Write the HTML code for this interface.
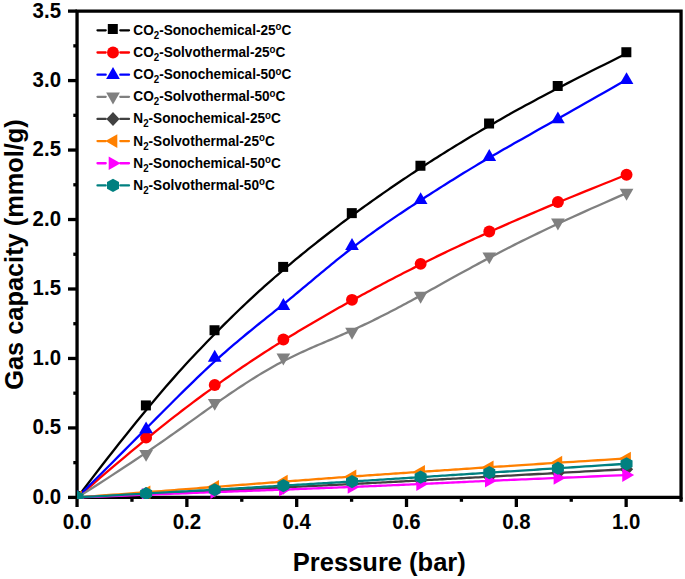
<!DOCTYPE html>
<html><head><meta charset="utf-8"><style>
html,body{margin:0;padding:0;background:#fff;width:685px;height:579px;overflow:hidden;}
svg{display:block;}
text{font-family:"Liberation Sans",sans-serif;font-weight:bold;fill:#000;}
</style></head><body>
<svg width="685" height="579" viewBox="0 0 685 579">
<g stroke="#000" stroke-width="3.3" fill="none" stroke-linecap="butt">
<path d="M75.40,11.11 H682.71 M681.06,11.11 V497.40 M75.40,497.40 H682.71 M77.05,9.46 V499.05"/>
<path d="M77.05,497.40 H68.00"/>
<path d="M77.05,462.66 H73.30"/>
<path d="M77.05,427.93 H68.00"/>
<path d="M77.05,393.19 H73.30"/>
<path d="M77.05,358.46 H68.00"/>
<path d="M77.05,323.72 H73.30"/>
<path d="M77.05,288.99 H68.00"/>
<path d="M77.05,254.25 H73.30"/>
<path d="M77.05,219.52 H68.00"/>
<path d="M77.05,184.78 H73.30"/>
<path d="M77.05,150.05 H68.00"/>
<path d="M77.05,115.31 H73.30"/>
<path d="M77.05,80.58 H68.00"/>
<path d="M77.05,45.84 H73.30"/>
<path d="M77.05,11.11 H68.00"/>
<path d="M77.05,497.40 V507.00"/>
<path d="M131.96,497.40 V501.80"/>
<path d="M186.87,497.40 V507.00"/>
<path d="M241.78,497.40 V501.80"/>
<path d="M296.69,497.40 V507.00"/>
<path d="M351.60,497.40 V501.80"/>
<path d="M406.51,497.40 V507.00"/>
<path d="M461.42,497.40 V501.80"/>
<path d="M516.33,497.40 V507.00"/>
<path d="M571.24,497.40 V501.80"/>
<path d="M626.15,497.40 V507.00"/>
<path d="M681.06,497.40 V501.80"/>
</g>
<svg x="76.95" y="11.11" width="604.01" height="487.79" viewBox="76.95 11.11 604.01 487.79" overflow="hidden">
<polyline points="77.45,497.40 85.03,487.43 92.33,477.88 99.35,468.76 106.12,460.05 112.63,451.72 118.89,443.77 124.92,436.18 130.73,428.95 136.32,422.04 141.70,415.46 146.88,409.18 151.87,403.19 156.68,397.48 161.32,392.04 165.79,386.84 170.11,381.88 174.29,377.13 178.33,372.60 182.24,368.26 186.04,364.09 189.72,360.09 193.31,356.24 196.81,352.53 200.23,348.93 203.57,345.45 206.85,342.05 210.07,338.74 213.25,335.49 216.38,332.32 219.47,329.20 222.52,326.15 225.52,323.16 228.49,320.23 231.42,317.35 234.32,314.53 237.18,311.76 240.01,309.04 242.81,306.36 245.58,303.74 248.33,301.15 251.05,298.61 253.75,296.11 256.43,293.64 259.09,291.21 261.74,288.82 264.37,286.45 266.98,284.11 269.59,281.80 272.18,279.52 274.77,277.25 277.35,275.01 279.93,272.79 282.50,270.58 285.08,268.38 287.65,266.20 290.23,264.04 292.80,261.88 295.37,259.74 297.95,257.61 300.52,255.49 303.10,253.39 305.67,251.30 308.24,249.22 310.82,247.15 313.39,245.10 315.97,243.05 318.54,241.02 321.11,239.00 323.69,236.98 326.26,234.98 328.83,232.99 331.41,231.02 333.98,229.05 336.56,227.09 339.13,225.14 341.70,223.20 344.28,221.27 346.85,219.35 349.43,217.44 352.00,215.54 354.57,213.65 357.15,211.77 359.72,209.89 362.30,208.03 364.87,206.17 367.44,204.32 370.02,202.48 372.59,200.65 375.17,198.83 377.74,197.01 380.31,195.21 382.89,193.41 385.46,191.62 388.03,189.84 390.61,188.07 393.18,186.30 395.76,184.55 398.33,182.80 400.90,181.05 403.48,179.32 406.05,177.59 408.63,175.88 411.20,174.16 413.77,172.46 416.35,170.77 418.92,169.08 421.50,167.40 424.07,165.72 426.65,164.05 429.23,162.39 431.82,160.73 434.41,159.07 437.02,157.41 439.63,155.76 442.26,154.11 444.91,152.45 447.57,150.79 450.25,149.13 452.95,147.46 455.67,145.79 458.42,144.12 461.19,142.43 463.99,140.74 466.82,139.04 469.68,137.33 472.58,135.60 475.51,133.87 478.48,132.12 481.48,130.35 484.53,128.57 487.62,126.78 490.75,124.97 493.93,123.14 497.15,121.29 500.43,119.41 503.77,117.51 507.19,115.58 510.69,113.62 514.28,111.62 517.96,109.57 521.76,107.48 525.67,105.34 529.71,103.14 533.89,100.89 538.21,98.57 542.68,96.18 547.32,93.73 552.13,91.20 557.12,88.59 562.30,85.90 567.68,83.13 573.27,80.26 579.08,77.30 585.11,74.24 591.37,71.08 597.88,67.81 604.65,64.43 611.67,60.93 618.97,57.32 626.55,53.58" fill="none" stroke="#000000" stroke-width="2.3" stroke-linejoin="round"/>
<rect x="72.25" y="491.05" width="10.0" height="10.0" fill="#000000"/>
<rect x="140.89" y="400.42" width="10.0" height="10.0" fill="#000000"/>
<rect x="209.53" y="325.25" width="10.0" height="10.0" fill="#000000"/>
<rect x="278.16" y="261.90" width="10.0" height="10.0" fill="#000000"/>
<rect x="346.80" y="208.13" width="10.0" height="10.0" fill="#000000"/>
<rect x="415.44" y="160.75" width="10.0" height="10.0" fill="#000000"/>
<rect x="484.08" y="118.51" width="10.0" height="10.0" fill="#000000"/>
<rect x="552.71" y="81.00" width="10.0" height="10.0" fill="#000000"/>
<rect x="621.35" y="47.23" width="10.0" height="10.0" fill="#000000"/>
<polyline points="77.45,497.40 85.03,490.82 92.33,484.51 99.35,478.47 106.12,472.68 112.63,467.13 118.89,461.83 124.92,456.76 130.73,451.90 136.32,447.26 141.70,442.82 146.88,438.57 151.87,434.51 156.68,430.62 161.32,426.91 165.79,423.35 170.11,419.94 174.29,416.67 178.33,413.54 182.24,410.52 186.04,407.63 189.72,404.83 193.31,402.14 196.81,399.53 200.23,397.01 203.57,394.55 206.85,392.16 210.07,389.81 213.25,387.52 216.38,385.27 219.47,383.07 222.52,380.90 225.52,378.78 228.49,376.70 231.42,374.65 234.32,372.65 237.18,370.67 240.01,368.73 242.81,366.82 245.58,364.95 248.33,363.10 251.05,361.28 253.75,359.48 256.43,357.71 259.09,355.97 261.74,354.24 264.37,352.54 266.98,350.85 269.59,349.18 272.18,347.53 274.77,345.89 277.35,344.26 279.93,342.65 282.50,341.05 285.08,339.45 287.65,337.86 290.23,336.28 292.80,334.71 295.37,333.15 297.95,331.59 300.52,330.04 303.10,328.50 305.67,326.96 308.24,325.44 310.82,323.91 313.39,322.40 315.97,320.89 318.54,319.39 321.11,317.90 323.69,316.41 326.26,314.93 328.83,313.46 331.41,311.99 333.98,310.53 336.56,309.07 339.13,307.62 341.70,306.18 344.28,304.74 346.85,303.30 349.43,301.87 352.00,300.45 354.57,299.04 357.15,297.62 359.72,296.22 362.30,294.82 364.87,293.42 367.44,292.03 370.02,290.64 372.59,289.26 375.17,287.89 377.74,286.52 380.31,285.15 382.89,283.79 385.46,282.44 388.03,281.09 390.61,279.75 393.18,278.41 395.76,277.07 398.33,275.74 400.90,274.42 403.48,273.10 406.05,271.79 408.63,270.48 411.20,269.18 413.77,267.88 416.35,266.59 418.92,265.30 421.50,264.02 424.07,262.74 426.65,261.47 429.23,260.19 431.82,258.93 434.41,257.66 437.02,256.39 439.63,255.13 442.26,253.86 444.91,252.59 447.57,251.32 450.25,250.05 452.95,248.77 455.67,247.48 458.42,246.20 461.19,244.90 463.99,243.60 466.82,242.28 469.68,240.96 472.58,239.63 475.51,238.29 478.48,236.94 481.48,235.58 484.53,234.20 487.62,232.81 490.75,231.40 493.93,229.98 497.15,228.54 500.43,227.08 503.77,225.60 507.19,224.10 510.69,222.56 514.28,221.00 517.96,219.40 521.76,217.76 525.67,216.07 529.71,214.35 533.89,212.57 538.21,210.74 542.68,208.86 547.32,206.91 552.13,204.91 557.12,202.84 562.30,200.70 567.68,198.49 573.27,196.20 579.08,193.83 585.11,191.38 591.37,188.85 597.88,186.23 604.65,183.51 611.67,180.70 618.97,177.79 626.55,174.78" fill="none" stroke="#ff0000" stroke-width="2.3" stroke-linejoin="round"/>
<circle cx="77.45" cy="497.40" r="5.95" fill="#ff0000"/>
<circle cx="146.09" cy="437.66" r="5.95" fill="#ff0000"/>
<circle cx="214.73" cy="385.00" r="5.95" fill="#ff0000"/>
<circle cx="283.36" cy="339.56" r="5.95" fill="#ff0000"/>
<circle cx="352.00" cy="299.83" r="5.95" fill="#ff0000"/>
<circle cx="420.64" cy="263.84" r="5.95" fill="#ff0000"/>
<circle cx="489.28" cy="231.47" r="5.95" fill="#ff0000"/>
<circle cx="557.91" cy="202.01" r="5.95" fill="#ff0000"/>
<circle cx="626.55" cy="174.78" r="5.95" fill="#ff0000"/>
<polyline points="77.45,497.40 85.03,489.85 92.33,482.56 99.35,475.53 106.12,468.75 112.63,462.22 118.89,455.93 124.92,449.87 130.73,444.03 136.32,438.40 141.70,432.99 146.88,427.77 151.87,422.75 156.68,417.92 161.32,413.26 165.79,408.78 170.11,404.46 174.29,400.29 178.33,396.28 182.24,392.41 186.04,388.67 189.72,385.06 193.31,381.57 196.81,378.19 200.23,374.92 203.57,371.75 206.85,368.67 210.07,365.67 213.25,362.75 216.38,359.90 219.47,357.12 222.52,354.41 225.52,351.77 228.49,349.18 231.42,346.65 234.32,344.18 237.18,341.76 240.01,339.38 242.81,337.05 245.58,334.75 248.33,332.50 251.05,330.27 253.75,328.08 256.43,325.91 259.09,323.77 261.74,321.65 264.37,319.54 266.98,317.45 269.59,315.36 272.18,313.29 274.77,311.21 277.35,309.14 279.93,307.06 282.50,304.97 285.08,302.87 287.65,300.77 290.23,298.65 292.80,296.52 295.37,294.39 297.95,292.25 300.52,290.11 303.10,287.96 305.67,285.81 308.24,283.66 310.82,281.51 313.39,279.35 315.97,277.20 318.54,275.06 321.11,272.92 323.69,270.78 326.26,268.65 328.83,266.53 331.41,264.42 333.98,262.32 336.56,260.23 339.13,258.15 341.70,256.09 344.28,254.04 346.85,252.01 349.43,250.00 352.00,248.00 354.57,246.03 357.15,244.07 359.72,242.13 362.30,240.22 364.87,238.31 367.44,236.43 370.02,234.56 372.59,232.71 375.17,230.87 377.74,229.05 380.31,227.24 382.89,225.44 385.46,223.66 388.03,221.89 390.61,220.13 393.18,218.38 395.76,216.64 398.33,214.91 400.90,213.19 403.48,211.48 406.05,209.77 408.63,208.07 411.20,206.38 413.77,204.70 416.35,203.02 418.92,201.34 421.50,199.67 424.07,198.01 426.65,196.34 429.23,194.68 431.82,193.02 434.41,191.36 437.02,189.69 439.63,188.03 442.26,186.36 444.91,184.69 447.57,183.02 450.25,181.34 452.95,179.66 455.67,177.97 458.42,176.27 461.19,174.56 463.99,172.85 466.82,171.12 469.68,169.39 472.58,167.64 475.51,165.88 478.48,164.11 481.48,162.33 484.53,160.52 487.62,158.71 490.75,156.87 493.93,155.02 497.15,153.16 500.43,151.26 503.77,149.35 507.19,147.39 510.69,145.40 514.28,143.36 517.96,141.27 521.76,139.13 525.67,136.92 529.71,134.64 533.89,132.29 538.21,129.85 542.68,127.33 547.32,124.72 552.13,122.01 557.12,119.20 562.30,116.28 567.68,113.24 573.27,110.08 579.08,106.79 585.11,103.37 591.37,99.82 597.88,96.11 604.65,92.26 611.67,88.25 618.97,84.08 626.55,79.75" fill="none" stroke="#0000ff" stroke-width="2.3" stroke-linejoin="round"/>
<polygon points="77.45,489.80 70.60,501.70 84.30,501.70" fill="#0000ff"/>
<polygon points="146.09,421.44 139.24,433.34 152.94,433.34" fill="#0000ff"/>
<polygon points="214.73,349.75 207.88,361.65 221.58,361.65" fill="#0000ff"/>
<polygon points="283.36,298.06 276.51,309.96 290.21,309.96" fill="#0000ff"/>
<polygon points="352.00,238.04 345.15,249.94 358.85,249.94" fill="#0000ff"/>
<polygon points="420.64,192.19 413.79,204.09 427.49,204.09" fill="#0000ff"/>
<polygon points="489.28,148.98 482.43,160.88 496.13,160.88" fill="#0000ff"/>
<polygon points="557.91,111.47 551.06,123.37 564.76,123.37" fill="#0000ff"/>
<polygon points="626.55,72.15 619.70,84.05 633.40,84.05" fill="#0000ff"/>
<polyline points="77.45,497.40 85.03,492.61 92.33,487.97 99.35,483.47 106.12,479.11 112.63,474.88 118.89,470.78 124.92,466.81 130.73,462.96 136.32,459.22 141.70,455.60 146.88,452.09 151.87,448.69 156.68,445.38 161.32,442.18 165.79,439.07 170.11,436.05 174.29,433.12 178.33,430.26 182.24,427.49 186.04,424.79 189.72,422.16 193.31,419.60 196.81,417.10 200.23,414.65 203.57,412.27 206.85,409.93 210.07,407.64 213.25,405.39 216.38,403.19 219.47,401.03 222.52,398.91 225.52,396.83 228.49,394.79 231.42,392.79 234.32,390.83 237.18,388.91 240.01,387.03 242.81,385.19 245.58,383.38 248.33,381.61 251.05,379.87 253.75,378.17 256.43,376.50 259.09,374.87 261.74,373.27 264.37,371.70 266.98,370.17 269.59,368.66 272.18,367.19 274.77,365.75 277.35,364.33 279.93,362.95 282.50,361.59 285.08,360.26 287.65,358.96 290.23,357.68 292.80,356.43 295.37,355.19 297.95,353.98 300.52,352.78 303.10,351.61 305.67,350.44 308.24,349.30 310.82,348.16 313.39,347.03 315.97,345.92 318.54,344.81 321.11,343.70 323.69,342.61 326.26,341.51 328.83,340.42 331.41,339.32 333.98,338.23 336.56,337.13 339.13,336.02 341.70,334.91 344.28,333.79 346.85,332.66 349.43,331.52 352.00,330.37 354.57,329.20 357.15,328.02 359.72,326.83 362.30,325.62 364.87,324.40 367.44,323.17 370.02,321.93 372.59,320.67 375.17,319.40 377.74,318.12 380.31,316.84 382.89,315.54 385.46,314.23 388.03,312.91 390.61,311.58 393.18,310.24 395.76,308.90 398.33,307.54 400.90,306.18 403.48,304.81 406.05,303.44 408.63,302.05 411.20,300.66 413.77,299.27 416.35,297.87 418.92,296.46 421.50,295.05 424.07,293.63 426.65,292.21 429.23,290.78 431.82,289.35 434.41,287.91 437.02,286.47 439.63,285.01 442.26,283.55 444.91,282.08 447.57,280.60 450.25,279.11 452.95,277.61 455.67,276.11 458.42,274.59 461.19,273.06 463.99,271.52 466.82,269.97 469.68,268.40 472.58,266.82 475.51,265.23 478.48,263.63 481.48,262.01 484.53,260.38 487.62,258.74 490.75,257.07 493.93,255.40 497.15,253.70 500.43,251.99 503.77,250.26 507.19,248.50 510.69,246.71 514.28,244.89 517.96,243.03 521.76,241.14 525.67,239.20 529.71,237.22 533.89,235.18 538.21,233.10 542.68,230.95 547.32,228.75 552.13,226.49 557.12,224.15 562.30,221.75 567.68,219.28 573.27,216.72 579.08,214.09 585.11,211.37 591.37,208.57 597.88,205.68 604.65,202.69 611.67,199.60 618.97,196.41 626.55,193.12" fill="none" stroke="#808080" stroke-width="2.3" stroke-linejoin="round"/>
<polygon points="77.45,505.00 70.60,493.10 84.30,493.10" fill="#808080"/>
<polygon points="146.09,461.79 139.24,449.89 152.94,449.89" fill="#808080"/>
<polygon points="214.73,410.80 207.88,398.90 221.58,398.90" fill="#808080"/>
<polygon points="283.36,365.50 276.51,353.60 290.21,353.60" fill="#808080"/>
<polygon points="352.00,339.66 345.15,327.76 358.85,327.76" fill="#808080"/>
<polygon points="420.64,303.68 413.79,291.78 427.49,291.78" fill="#808080"/>
<polygon points="489.28,264.36 482.43,252.46 496.13,252.46" fill="#808080"/>
<polygon points="557.91,230.45 551.06,218.55 564.76,218.55" fill="#808080"/>
<polygon points="626.55,200.72 619.70,188.82 633.40,188.82" fill="#808080"/>
<polyline points="77.45,497.40 85.03,497.03 92.33,496.68 99.35,496.34 106.12,496.01 112.63,495.69 118.89,495.39 124.92,495.09 130.73,494.81 136.32,494.54 141.70,494.28 146.88,494.03 151.87,493.78 156.68,493.55 161.32,493.33 165.79,493.11 170.11,492.90 174.29,492.70 178.33,492.50 182.24,492.31 186.04,492.12 189.72,491.95 193.31,491.77 196.81,491.60 200.23,491.44 203.57,491.27 206.85,491.11 210.07,490.96 213.25,490.80 216.38,490.65 219.47,490.50 222.52,490.35 225.52,490.21 228.49,490.06 231.42,489.92 234.32,489.78 237.18,489.64 240.01,489.50 242.81,489.37 245.58,489.23 248.33,489.10 251.05,488.97 253.75,488.83 256.43,488.70 259.09,488.58 261.74,488.45 264.37,488.32 266.98,488.19 269.59,488.07 272.18,487.94 274.77,487.81 277.35,487.69 279.93,487.56 282.50,487.44 285.08,487.31 287.65,487.19 290.23,487.06 292.80,486.94 295.37,486.81 297.95,486.69 300.52,486.56 303.10,486.44 305.67,486.31 308.24,486.19 310.82,486.06 313.39,485.93 315.97,485.81 318.54,485.68 321.11,485.55 323.69,485.43 326.26,485.30 328.83,485.17 331.41,485.05 333.98,484.92 336.56,484.79 339.13,484.66 341.70,484.53 344.28,484.40 346.85,484.28 349.43,484.15 352.00,484.02 354.57,483.88 357.15,483.75 359.72,483.62 362.30,483.49 364.87,483.36 367.44,483.23 370.02,483.09 372.59,482.96 375.17,482.83 377.74,482.69 380.31,482.56 382.89,482.43 385.46,482.29 388.03,482.16 390.61,482.02 393.18,481.89 395.76,481.75 398.33,481.61 400.90,481.48 403.48,481.34 406.05,481.21 408.63,481.07 411.20,480.93 413.77,480.79 416.35,480.66 418.92,480.52 421.50,480.38 424.07,480.24 426.65,480.10 429.23,479.96 431.82,479.82 434.41,479.68 437.02,479.54 439.63,479.40 442.26,479.26 444.91,479.12 447.57,478.97 450.25,478.83 452.95,478.68 455.67,478.53 458.42,478.38 461.19,478.23 463.99,478.08 466.82,477.92 469.68,477.77 472.58,477.61 475.51,477.45 478.48,477.29 481.48,477.12 484.53,476.96 487.62,476.79 490.75,476.62 493.93,476.44 497.15,476.27 500.43,476.09 503.77,475.91 507.19,475.72 510.69,475.53 514.28,475.33 517.96,475.13 521.76,474.92 525.67,474.71 529.71,474.49 533.89,474.26 538.21,474.02 542.68,473.78 547.32,473.53 552.13,473.26 557.12,472.99 562.30,472.71 567.68,472.41 573.27,472.11 579.08,471.79 585.11,471.46 591.37,471.12 597.88,470.76 604.65,470.39 611.67,470.01 618.97,469.61 626.55,469.20" fill="none" stroke="#414141" stroke-width="2.3" stroke-linejoin="round"/>
<polygon points="77.45,490.40 84.05,497.40 77.45,504.40 70.85,497.40" fill="#414141"/>
<polygon points="146.09,487.07 152.69,494.07 146.09,501.07 139.49,494.07" fill="#414141"/>
<polygon points="214.73,483.73 221.33,490.73 214.73,497.73 208.13,490.73" fill="#414141"/>
<polygon points="283.36,480.40 289.96,487.40 283.36,494.40 276.76,487.40" fill="#414141"/>
<polygon points="352.00,477.06 358.60,484.06 352.00,491.06 345.40,484.06" fill="#414141"/>
<polygon points="420.64,473.45 427.24,480.45 420.64,487.45 414.04,480.45" fill="#414141"/>
<polygon points="489.28,469.70 495.88,476.70 489.28,483.70 482.68,476.70" fill="#414141"/>
<polygon points="557.91,465.95 564.51,472.95 557.91,479.95 551.31,472.95" fill="#414141"/>
<polygon points="626.55,462.20 633.15,469.20 626.55,476.20 619.95,469.20" fill="#414141"/>
<polyline points="77.45,497.40 85.03,496.83 92.33,496.28 99.35,495.75 106.12,495.24 112.63,494.75 118.89,494.28 124.92,493.82 130.73,493.38 136.32,492.95 141.70,492.54 146.88,492.14 151.87,491.76 156.68,491.39 161.32,491.03 165.79,490.69 170.11,490.35 174.29,490.03 178.33,489.72 182.24,489.42 186.04,489.12 189.72,488.83 193.31,488.56 196.81,488.28 200.23,488.02 203.57,487.76 206.85,487.51 210.07,487.26 213.25,487.01 216.38,486.77 219.47,486.53 222.52,486.30 225.52,486.07 228.49,485.84 231.42,485.62 234.32,485.40 237.18,485.18 240.01,484.96 242.81,484.75 245.58,484.54 248.33,484.33 251.05,484.12 253.75,483.92 256.43,483.72 259.09,483.51 261.74,483.31 264.37,483.12 266.98,482.92 269.59,482.72 272.18,482.52 274.77,482.33 277.35,482.13 279.93,481.94 282.50,481.74 285.08,481.55 287.65,481.35 290.23,481.16 292.80,480.96 295.37,480.76 297.95,480.57 300.52,480.37 303.10,480.18 305.67,479.98 308.24,479.79 310.82,479.59 313.39,479.40 315.97,479.20 318.54,479.01 321.11,478.81 323.69,478.62 326.26,478.43 328.83,478.23 331.41,478.04 333.98,477.85 336.56,477.66 339.13,477.47 341.70,477.28 344.28,477.09 346.85,476.91 349.43,476.72 352.00,476.54 354.57,476.35 357.15,476.17 359.72,475.99 362.30,475.80 364.87,475.62 367.44,475.44 370.02,475.26 372.59,475.08 375.17,474.91 377.74,474.73 380.31,474.55 382.89,474.38 385.46,474.20 388.03,474.03 390.61,473.85 393.18,473.68 395.76,473.50 398.33,473.33 400.90,473.16 403.48,472.98 406.05,472.81 408.63,472.64 411.20,472.47 413.77,472.29 416.35,472.12 418.92,471.95 421.50,471.78 424.07,471.61 426.65,471.43 429.23,471.26 431.82,471.09 434.41,470.91 437.02,470.74 439.63,470.57 442.26,470.39 444.91,470.21 447.57,470.04 450.25,469.86 452.95,469.68 455.67,469.49 458.42,469.31 461.19,469.13 463.99,468.94 466.82,468.75 469.68,468.56 472.58,468.37 475.51,468.17 478.48,467.97 481.48,467.77 484.53,467.57 487.62,467.36 490.75,467.15 493.93,466.94 497.15,466.72 500.43,466.50 503.77,466.28 507.19,466.05 510.69,465.82 514.28,465.58 517.96,465.34 521.76,465.09 525.67,464.83 529.71,464.57 533.89,464.30 538.21,464.02 542.68,463.73 547.32,463.43 552.13,463.12 557.12,462.80 562.30,462.47 567.68,462.13 573.27,461.78 579.08,461.42 585.11,461.04 591.37,460.65 597.88,460.25 604.65,459.83 611.67,459.40 618.97,458.96 626.55,458.50" fill="none" stroke="#ff8000" stroke-width="2.3" stroke-linejoin="round"/>
<polygon points="69.85,497.40 81.75,490.55 81.75,504.25" fill="#ff8000"/>
<polygon points="138.49,492.26 150.39,485.41 150.39,499.11" fill="#ff8000"/>
<polygon points="207.13,486.84 219.03,479.99 219.03,493.69" fill="#ff8000"/>
<polygon points="275.76,481.70 287.66,474.85 287.66,488.55" fill="#ff8000"/>
<polygon points="344.40,476.42 356.30,469.57 356.30,483.27" fill="#ff8000"/>
<polygon points="413.04,471.84 424.94,464.99 424.94,478.69" fill="#ff8000"/>
<polygon points="481.68,467.25 493.57,460.40 493.57,474.10" fill="#ff8000"/>
<polygon points="550.31,462.66 562.21,455.81 562.21,469.51" fill="#ff8000"/>
<polygon points="618.95,458.50 630.85,451.65 630.85,465.35" fill="#ff8000"/>
<polyline points="77.45,497.40 85.03,497.11 92.33,496.83 99.35,496.56 106.12,496.30 112.63,496.05 118.89,495.81 124.92,495.57 130.73,495.35 136.32,495.14 141.70,494.93 146.88,494.73 151.87,494.54 156.68,494.36 161.32,494.18 165.79,494.01 170.11,493.84 174.29,493.68 178.33,493.53 182.24,493.38 186.04,493.23 189.72,493.09 193.31,492.96 196.81,492.82 200.23,492.69 203.57,492.57 206.85,492.44 210.07,492.32 213.25,492.20 216.38,492.09 219.47,491.97 222.52,491.86 225.52,491.74 228.49,491.63 231.42,491.52 234.32,491.42 237.18,491.31 240.01,491.21 242.81,491.10 245.58,491.00 248.33,490.90 251.05,490.80 253.75,490.70 256.43,490.60 259.09,490.50 261.74,490.40 264.37,490.30 266.98,490.21 269.59,490.11 272.18,490.01 274.77,489.92 277.35,489.82 279.93,489.72 282.50,489.63 285.08,489.53 287.65,489.44 290.23,489.34 292.80,489.24 295.37,489.14 297.95,489.05 300.52,488.95 303.10,488.85 305.67,488.75 308.24,488.65 310.82,488.56 313.39,488.46 315.97,488.36 318.54,488.26 321.11,488.16 323.69,488.06 326.26,487.96 328.83,487.86 331.41,487.75 333.98,487.65 336.56,487.55 339.13,487.45 341.70,487.35 344.28,487.24 346.85,487.14 349.43,487.04 352.00,486.93 354.57,486.83 357.15,486.72 359.72,486.62 362.30,486.51 364.87,486.41 367.44,486.30 370.02,486.19 372.59,486.09 375.17,485.98 377.74,485.87 380.31,485.76 382.89,485.65 385.46,485.54 388.03,485.43 390.61,485.32 393.18,485.21 395.76,485.10 398.33,484.99 400.90,484.87 403.48,484.76 406.05,484.65 408.63,484.53 411.20,484.42 413.77,484.30 416.35,484.19 418.92,484.07 421.50,483.95 424.07,483.84 426.65,483.72 429.23,483.60 431.82,483.48 434.41,483.36 437.02,483.24 439.63,483.12 442.26,482.99 444.91,482.87 447.57,482.75 450.25,482.62 452.95,482.49 455.67,482.37 458.42,482.24 461.19,482.11 463.99,481.98 466.82,481.85 469.68,481.72 472.58,481.59 475.51,481.46 478.48,481.32 481.48,481.19 484.53,481.05 487.62,480.91 490.75,480.77 493.93,480.64 497.15,480.49 500.43,480.35 503.77,480.21 507.19,480.06 510.69,479.91 514.28,479.76 517.96,479.60 521.76,479.44 525.67,479.28 529.71,479.11 533.89,478.93 538.21,478.75 542.68,478.56 547.32,478.37 552.13,478.17 557.12,477.96 562.30,477.74 567.68,477.52 573.27,477.28 579.08,477.04 585.11,476.78 591.37,476.52 597.88,476.25 604.65,475.96 611.67,475.66 618.97,475.35 626.55,475.03" fill="none" stroke="#ff00ff" stroke-width="2.3" stroke-linejoin="round"/>
<polygon points="85.05,497.40 73.15,490.55 73.15,504.25" fill="#ff00ff"/>
<polygon points="153.69,494.76 141.79,487.91 141.79,501.61" fill="#ff00ff"/>
<polygon points="222.33,492.12 210.43,485.27 210.43,498.97" fill="#ff00ff"/>
<polygon points="290.96,489.62 279.06,482.77 279.06,496.47" fill="#ff00ff"/>
<polygon points="359.60,486.98 347.70,480.13 347.70,493.83" fill="#ff00ff"/>
<polygon points="428.24,484.06 416.34,477.21 416.34,490.91" fill="#ff00ff"/>
<polygon points="496.88,480.73 484.98,473.88 484.98,487.58" fill="#ff00ff"/>
<polygon points="565.51,477.95 553.61,471.10 553.61,484.80" fill="#ff00ff"/>
<polygon points="634.15,475.03 622.25,468.18 622.25,481.88" fill="#ff00ff"/>
<polyline points="77.45,497.40 85.03,496.97 92.33,496.56 99.35,496.16 106.12,495.78 112.63,495.41 118.89,495.06 124.92,494.72 130.73,494.39 136.32,494.08 141.70,493.78 146.88,493.49 151.87,493.21 156.68,492.94 161.32,492.68 165.79,492.43 170.11,492.19 174.29,491.96 178.33,491.73 182.24,491.51 186.04,491.30 189.72,491.09 193.31,490.89 196.81,490.69 200.23,490.50 203.57,490.31 206.85,490.12 210.07,489.94 213.25,489.76 216.38,489.58 219.47,489.40 222.52,489.22 225.52,489.05 228.49,488.88 231.42,488.71 234.32,488.54 237.18,488.37 240.01,488.20 242.81,488.03 245.58,487.87 248.33,487.71 251.05,487.55 253.75,487.38 256.43,487.22 259.09,487.07 261.74,486.91 264.37,486.75 266.98,486.59 269.59,486.44 272.18,486.28 274.77,486.13 277.35,485.97 279.93,485.82 282.50,485.66 285.08,485.51 287.65,485.36 290.23,485.20 292.80,485.05 295.37,484.90 297.95,484.74 300.52,484.59 303.10,484.44 305.67,484.29 308.24,484.13 310.82,483.98 313.39,483.83 315.97,483.67 318.54,483.52 321.11,483.36 323.69,483.21 326.26,483.06 328.83,482.90 331.41,482.75 333.98,482.59 336.56,482.44 339.13,482.28 341.70,482.12 344.28,481.97 346.85,481.81 349.43,481.65 352.00,481.49 354.57,481.33 357.15,481.17 359.72,481.01 362.30,480.85 364.87,480.69 367.44,480.53 370.02,480.37 372.59,480.20 375.17,480.04 377.74,479.88 380.31,479.71 382.89,479.55 385.46,479.38 388.03,479.22 390.61,479.05 393.18,478.89 395.76,478.72 398.33,478.56 400.90,478.39 403.48,478.23 406.05,478.06 408.63,477.89 411.20,477.73 413.77,477.56 416.35,477.39 418.92,477.23 421.50,477.06 424.07,476.89 426.65,476.73 429.23,476.56 431.82,476.39 434.41,476.22 437.02,476.05 439.63,475.88 442.26,475.71 444.91,475.54 447.57,475.37 450.25,475.20 452.95,475.02 455.67,474.85 458.42,474.67 461.19,474.49 463.99,474.31 466.82,474.12 469.68,473.94 472.58,473.75 475.51,473.56 478.48,473.37 481.48,473.17 484.53,472.98 487.62,472.78 490.75,472.57 493.93,472.37 497.15,472.16 500.43,471.95 503.77,471.73 507.19,471.51 510.69,471.28 514.28,471.05 517.96,470.81 521.76,470.56 525.67,470.31 529.71,470.05 533.89,469.78 538.21,469.50 542.68,469.21 547.32,468.91 552.13,468.60 557.12,468.27 562.30,467.94 567.68,467.59 573.27,467.23 579.08,466.85 585.11,466.46 591.37,466.06 597.88,465.63 604.65,465.20 611.67,464.74 618.97,464.27 626.55,463.78" fill="none" stroke="#008080" stroke-width="2.3" stroke-linejoin="round"/>
<polygon points="77.45,490.80 83.45,494.10 83.45,500.70 77.45,504.00 71.45,500.70 71.45,494.10" fill="#008080"/>
<polygon points="146.09,486.91 152.09,490.21 152.09,496.81 146.09,500.11 140.09,496.81 140.09,490.21" fill="#008080"/>
<polygon points="214.73,483.16 220.73,486.46 220.73,493.06 214.73,496.36 208.73,493.06 208.73,486.46" fill="#008080"/>
<polygon points="283.36,478.99 289.36,482.29 289.36,488.89 283.36,492.19 277.36,488.89 277.36,482.29" fill="#008080"/>
<polygon points="352.00,474.96 358.00,478.26 358.00,484.86 352.00,488.16 346.00,484.86 346.00,478.26" fill="#008080"/>
<polygon points="420.64,470.51 426.64,473.81 426.64,480.41 420.64,483.71 414.64,480.41 414.64,473.81" fill="#008080"/>
<polygon points="489.28,466.07 495.28,469.37 495.28,475.97 489.28,479.27 483.28,475.97 483.28,469.37" fill="#008080"/>
<polygon points="557.91,461.62 563.91,464.92 563.91,471.52 557.91,474.82 551.91,471.52 551.91,464.92" fill="#008080"/>
<polygon points="626.55,457.18 632.55,460.48 632.55,467.08 626.55,470.38 620.55,467.08 620.55,460.48" fill="#008080"/>
</svg>
<text transform="translate(61,503.80) scale(0.95,1)" font-size="21.5" text-anchor="end">0.0</text>
<text transform="translate(61,434.33) scale(0.95,1)" font-size="21.5" text-anchor="end">0.5</text>
<text transform="translate(61,364.86) scale(0.95,1)" font-size="21.5" text-anchor="end">1.0</text>
<text transform="translate(61,295.39) scale(0.95,1)" font-size="21.5" text-anchor="end">1.5</text>
<text transform="translate(61,225.92) scale(0.95,1)" font-size="21.5" text-anchor="end">2.0</text>
<text transform="translate(61,156.45) scale(0.95,1)" font-size="21.5" text-anchor="end">2.5</text>
<text transform="translate(61,86.98) scale(0.95,1)" font-size="21.5" text-anchor="end">3.0</text>
<text transform="translate(61,17.51) scale(0.95,1)" font-size="21.5" text-anchor="end">3.5</text>
<text transform="translate(77.05,529) scale(0.95,1)" font-size="21.5" text-anchor="middle">0.0</text>
<text transform="translate(186.87,529) scale(0.95,1)" font-size="21.5" text-anchor="middle">0.2</text>
<text transform="translate(296.69,529) scale(0.95,1)" font-size="21.5" text-anchor="middle">0.4</text>
<text transform="translate(406.51,529) scale(0.95,1)" font-size="21.5" text-anchor="middle">0.6</text>
<text transform="translate(516.33,529) scale(0.95,1)" font-size="21.5" text-anchor="middle">0.8</text>
<text transform="translate(626.15,529) scale(0.95,1)" font-size="21.5" text-anchor="middle">1.0</text>
<text transform="translate(379.3,570.6) scale(1.0,1)" font-size="25.5" text-anchor="middle">Pressure (bar)</text>
<text transform="translate(22.6,254.5) rotate(-90) scale(0.995,1)" font-size="25.5" text-anchor="middle">Gas capacity (mmol/g)</text>
<path d="M97.5,30.35 H105.7 M120.3,30.35 H129" stroke="#000000" stroke-width="2.3" stroke-linecap="round"/>
<rect x="107.80" y="24.00" width="10.0" height="10.0" fill="#000000"/>
<text transform="translate(133.3,34.75) scale(0.9735,1)" font-size="14">CO<tspan font-size="10.0" dy="4.1">2</tspan><tspan dy="-4.1">-Sonochemical-25</tspan><tspan font-size="10.0" dy="-4.4">o</tspan><tspan dy="4.4">C</tspan></text>
<path d="M97.5,52.50 H105.7 M120.3,52.50 H129" stroke="#ff0000" stroke-width="2.3" stroke-linecap="round"/>
<circle cx="113.00" cy="52.50" r="5.95" fill="#ff0000"/>
<text transform="translate(133.3,56.90) scale(0.9735,1)" font-size="14">CO<tspan font-size="10.0" dy="4.1">2</tspan><tspan dy="-4.1">-Solvothermal-25</tspan><tspan font-size="10.0" dy="-4.4">o</tspan><tspan dy="4.4">C</tspan></text>
<path d="M97.5,74.65 H105.7 M120.3,74.65 H129" stroke="#0000ff" stroke-width="2.3" stroke-linecap="round"/>
<polygon points="113.00,67.05 106.15,78.95 119.85,78.95" fill="#0000ff"/>
<text transform="translate(133.3,79.05) scale(0.9735,1)" font-size="14">CO<tspan font-size="10.0" dy="4.1">2</tspan><tspan dy="-4.1">-Sonochemical-50</tspan><tspan font-size="10.0" dy="-4.4">o</tspan><tspan dy="4.4">C</tspan></text>
<path d="M97.5,96.80 H105.7 M120.3,96.80 H129" stroke="#808080" stroke-width="2.3" stroke-linecap="round"/>
<polygon points="113.00,104.40 106.15,92.50 119.85,92.50" fill="#808080"/>
<text transform="translate(133.3,101.20) scale(0.9735,1)" font-size="14">CO<tspan font-size="10.0" dy="4.1">2</tspan><tspan dy="-4.1">-Solvothermal-50</tspan><tspan font-size="10.0" dy="-4.4">o</tspan><tspan dy="4.4">C</tspan></text>
<path d="M97.5,118.95 H105.7 M120.3,118.95 H129" stroke="#414141" stroke-width="2.3" stroke-linecap="round"/>
<polygon points="113.00,111.95 119.60,118.95 113.00,125.95 106.40,118.95" fill="#414141"/>
<text transform="translate(133.3,123.35) scale(0.9735,1)" font-size="14">N<tspan font-size="10.0" dy="4.1">2</tspan><tspan dy="-4.1">-Sonochemical-25</tspan><tspan font-size="10.0" dy="-4.4">o</tspan><tspan dy="4.4">C</tspan></text>
<path d="M97.5,141.10 H105.7 M120.3,141.10 H129" stroke="#ff8000" stroke-width="2.3" stroke-linecap="round"/>
<polygon points="105.40,141.10 117.30,134.25 117.30,147.95" fill="#ff8000"/>
<text transform="translate(133.3,145.50) scale(0.9735,1)" font-size="14">N<tspan font-size="10.0" dy="4.1">2</tspan><tspan dy="-4.1">-Solvothermal-25</tspan><tspan font-size="10.0" dy="-4.4">o</tspan><tspan dy="4.4">C</tspan></text>
<path d="M97.5,163.25 H105.7 M120.3,163.25 H129" stroke="#ff00ff" stroke-width="2.3" stroke-linecap="round"/>
<polygon points="120.60,163.25 108.70,156.40 108.70,170.10" fill="#ff00ff"/>
<text transform="translate(133.3,167.65) scale(0.9735,1)" font-size="14">N<tspan font-size="10.0" dy="4.1">2</tspan><tspan dy="-4.1">-Sonochemical-50</tspan><tspan font-size="10.0" dy="-4.4">o</tspan><tspan dy="4.4">C</tspan></text>
<path d="M97.5,185.40 H105.7 M120.3,185.40 H129" stroke="#008080" stroke-width="2.3" stroke-linecap="round"/>
<polygon points="113.00,178.80 119.00,182.10 119.00,188.70 113.00,192.00 107.00,188.70 107.00,182.10" fill="#008080"/>
<text transform="translate(133.3,189.80) scale(0.9735,1)" font-size="14">N<tspan font-size="10.0" dy="4.1">2</tspan><tspan dy="-4.1">-Solvothermal-50</tspan><tspan font-size="10.0" dy="-4.4">o</tspan><tspan dy="4.4">C</tspan></text>
</svg>
</body></html>
